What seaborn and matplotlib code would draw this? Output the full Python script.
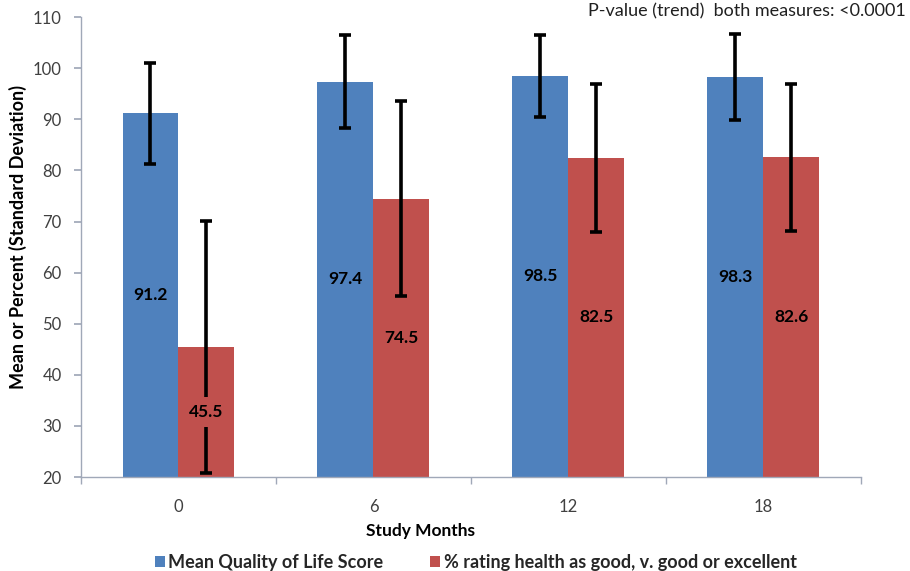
import matplotlib
matplotlib.use("Agg")
import matplotlib.pyplot as plt
import seaborn as sns
import pandas as pd
import numpy as np
from matplotlib.patches import Patch

months = ["0", "6", "12", "18"]
series = ["Mean Quality of Life Score", "% rating health as good, v. good or excellent"]
qol_mean = [91.2, 97.4, 98.5, 98.3]
qol_sd = [9.9, 9.1, 8.0, 8.4]
good_pct = [45.5, 74.5, 82.5, 82.6]
good_sd = [24.7, 19.0, 14.5, 14.4]
colors = ["#4F81BD", "#C0504D"]

sns.set_theme(style="white")
plt.rcParams["font.family"] = ["Lato", "DejaVu Sans"]

df = pd.DataFrame({
    "Month": months * 2,
    "Series": [series[0]] * 4 + [series[1]] * 4,
    "Value": qol_mean + good_pct,
})

fig = plt.figure(figsize=(9.1, 5.71), dpi=100)
ax = fig.add_axes([0.089, 0.1646, 0.857, 0.8054])

sns.barplot(data=df, x="Month", y="Value", hue="Series", order=months,
            hue_order=series, palette=colors, width=0.574, saturation=1,
            errorbar=None, ax=ax, legend=False, linewidth=0)

sds = [qol_sd, good_sd]
vals = [qol_mean, good_pct]
bar_containers = list(ax.containers)
for ci, container in enumerate(bar_containers):
    patches = list(container)
    xs = [p.get_x() + p.get_width() / 2 for p in patches]
    ax.errorbar(xs, vals[ci], yerr=sds[ci], fmt="none", ecolor="black",
                elinewidth=2.6, capsize=4, capthick=2.6, zorder=3)
    for p, v in zip(patches, vals[ci]):
        ax.text(p.get_x() + p.get_width() / 2, (v + 20) / 2, f"{v:.1f}",
                ha="center", va="center", fontsize=12.5, fontweight="bold",
                color="black", zorder=4,
                bbox=dict(facecolor=colors[ci], edgecolor="none", pad=5))

ax.set_ylim(20, 110)
ax.set_yticks(range(20, 111, 10))
ax.set_xlim(-0.5, 3.5)
ax.tick_params(axis="y", which="major", left=True, length=5, color="#A0A8B8",
               labelsize=12, labelcolor="#404040", pad=9)
ax.tick_params(axis="x", which="major", bottom=False, labelsize=12,
               labelcolor="#404040", pad=10)
ax.set_xticks([-0.5, 0.5, 1.5, 2.5, 3.5], minor=True)
ax.tick_params(axis="x", which="minor", bottom=True, length=5, color="#A0A8B8")

for s in ["top", "right"]:
    ax.spines[s].set_visible(False)
for s in ["left", "bottom"]:
    ax.spines[s].set_color("#A0A8B8")
    ax.spines[s].set_linewidth(1.0)

ax.set_xlabel("Study Months", fontsize=12.5, fontweight="bold", color="black")
ax.xaxis.set_label_coords(0.435, -0.1)
ax.set_ylabel("Mean or Percent (Standard Deviation)", fontsize=13,
              fontweight="bold", color="black")
ax.yaxis.set_label_coords(-0.069, 0.522)

ax.text(0.995, 0.995, "P-value (trend)  both measures: <0.0001",
        transform=fig.transFigure, ha="right", va="top", fontsize=13,
        color="#202020")

handles = [Patch(facecolor=c, edgecolor="none") for c in colors]
fig.legend(handles, series, loc="lower center", bbox_to_anchor=(0.523, -0.028),
           ncol=2, frameon=False, handlelength=0.55, handleheight=0.55,
           handletextpad=0.2, columnspacing=2.6,
           prop=dict(size=13, weight="bold"))

fig.savefig("out.png", dpi=100)
